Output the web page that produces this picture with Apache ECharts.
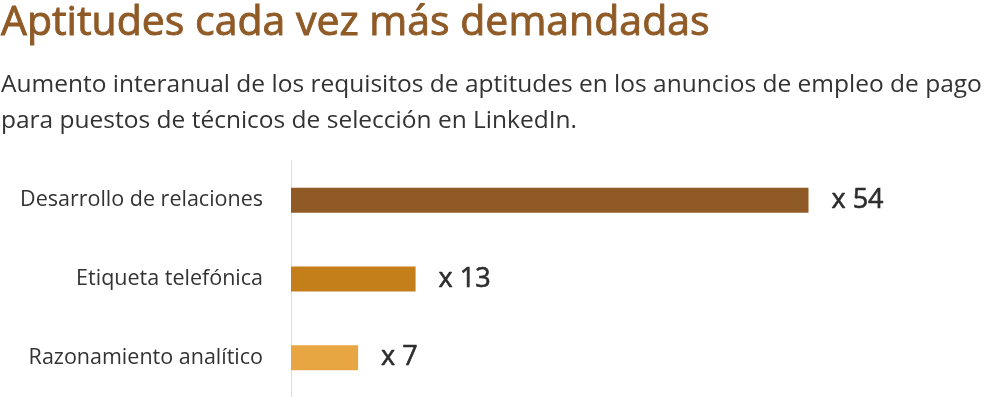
<!DOCTYPE html>
<html>
<head>
<meta charset="utf-8">
<script src="https://cdn.jsdelivr.net/npm/echarts@6/dist/echarts.min.js"></script>
<style>
  html, body { margin: 0; padding: 0; background: #fff; }
  #chart { width: 1000px; height: 397px; }
</style>
</head>
<body>
<div id="chart"></div>
<script>
// categorias (de arriba a abajo) y multiplicadores
var categories = ['Desarrollo de relaciones', 'Etiqueta telefónica', 'Razonamiento analítico'];
var values = [54, 13, 7];
var barColors = ['#8f5a26', '#c47f1a', '#e8a642'];

var chart = echarts.init(document.getElementById('chart'));

var option = {
  backgroundColor: '#ffffff',
  animation: false,
  title: [{
    text: 'Aptitudes cada vez más demandadas',
    left: 1,
    top: 3,
    padding: 0,
    textStyle: {
      fontFamily: 'Open Sans',
      fontSize: 41,
      fontWeight: 'normal',
      color: '#8f5a26',
      // un poco mas de cuerpo, el original es semi-negrita
      textBorderColor: '#8f5a26',
      textBorderWidth: 0.9
    }
  }, {
    text: 'Aumento interanual de los requisitos de aptitudes en los anuncios de empleo de pago\npara puestos de técnicos de selección en LinkedIn.',
    left: 1,
    top: 67,
    padding: 0,
    textStyle: {
      fontFamily: 'Open Sans',
      fontSize: 24.5,
      fontWeight: 'normal',
      lineHeight: 36,
      color: '#333333'
    }
  }],
  grid: {
    left: 291,
    top: 161,
    width: 575,
    bottom: 0
  },
  xAxis: {
    type: 'value',
    min: 0,
    max: 60,
    show: false
  },
  yAxis: {
    type: 'category',
    inverse: true,
    data: categories,
    axisLine: { show: true, lineStyle: { color: '#dddddd', width: 1 } },
    axisTick: { show: false },
    axisLabel: {
      margin: 28,
      fontFamily: 'Open Sans',
      fontSize: 21.5,
      color: '#333333'
    }
  },
  series: [{
    type: 'bar',
    barWidth: 25,
    data: values.map(function (v, i) {
      return { value: v, itemStyle: { color: barColors[i] } };
    }),
    label: {
      show: true,
      position: 'right',
      distance: 23,
      formatter: function (p) { return 'x ' + p.value; },
      fontFamily: 'Open Sans',
      fontSize: 27,
      color: '#2d2d2d',
      textBorderColor: '#2d2d2d',
      textBorderWidth: 0.6
    }
  }]
};

chart.setOption(option);
</script>
</body>
</html>
